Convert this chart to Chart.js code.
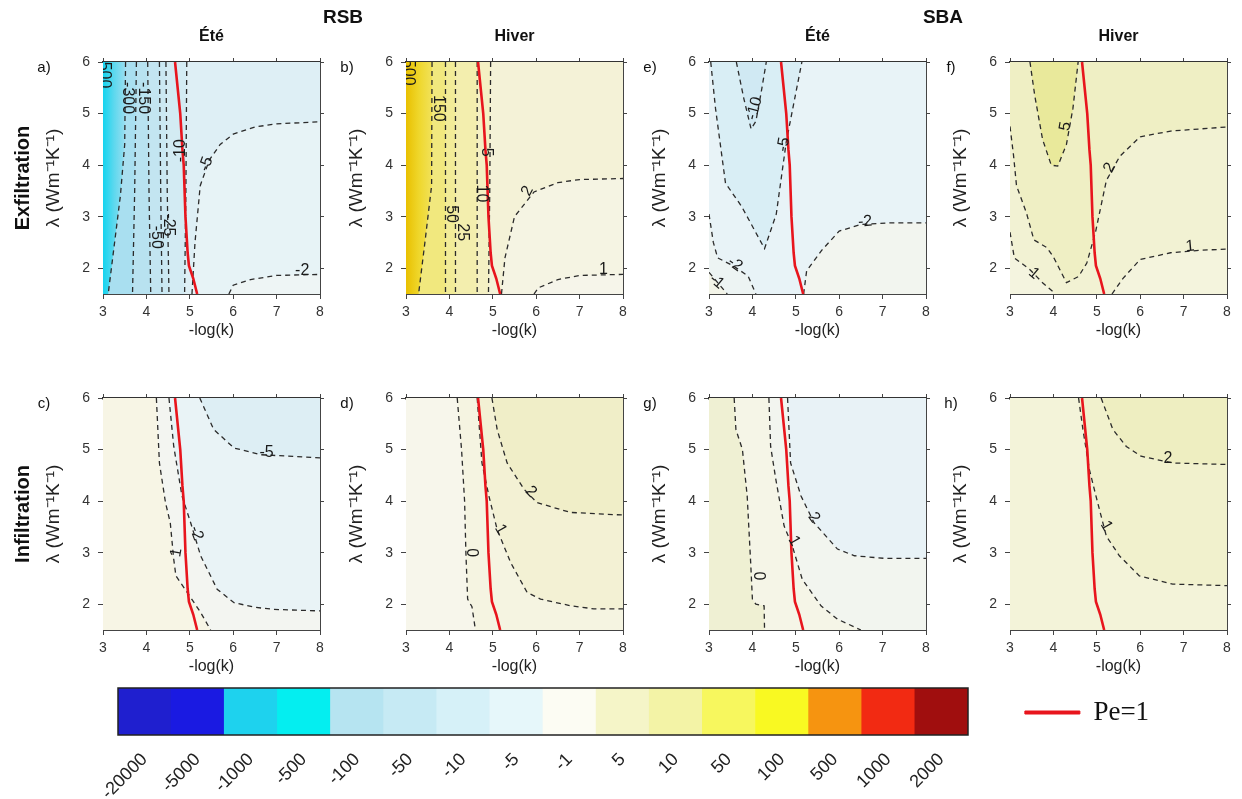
<!DOCTYPE html>
<html>
<head>
<meta charset="utf-8">
<script src="https://cdn.jsdelivr.net/npm/chart.js@4.4.1/dist/chart.umd.min.js"></script>
<style>
  body { margin: 0; background: #fff; width: 1242px; height: 799px; overflow: hidden; position: relative; }
  canvas { position: absolute; }
</style>
</head>
<body>
<canvas id="pa" width="329" height="340" style="left:3px;top:0px"></canvas>
<canvas id="pb" width="329" height="340" style="left:306px;top:0px"></canvas>
<canvas id="pe" width="329" height="340" style="left:609px;top:0px"></canvas>
<canvas id="pf" width="329" height="340" style="left:910px;top:0px"></canvas>
<canvas id="pc" width="329" height="340" style="left:3px;top:336px"></canvas>
<canvas id="pd" width="329" height="340" style="left:306px;top:336px"></canvas>
<canvas id="pg" width="329" height="340" style="left:609px;top:336px"></canvas>
<canvas id="ph" width="329" height="340" style="left:910px;top:336px"></canvas>
<canvas id="cbar" width="920" height="119" style="left:60px;top:680px"></canvas>
<canvas id="leg" width="200" height="90" style="left:987px;top:691px"></canvas>
<script>
const FONT = "'Liberation Sans', Arial, sans-serif";
const RED = "#e8151d";

const xTicks = [3, 4, 5, 6, 7, 8];
const yTicks = [2, 3, 4, 5, 6];

// Pe = 1 (same in every panel)
const peLine = [[4.66, 6], [4.72, 5.5], [4.78, 5.0], [4.83, 4.3], [4.86, 4.0], [4.9, 3.0], [4.95, 2.3], [4.98, 2.05], [5.08, 1.8], [5.17, 1.5]];

// a) RSB, été, exfiltration
const aM300 = [[3.52, 6], [3.5, 4.4], [3.4, 3.4], [3.12, 1.5]];
const aM150 = [[3.77, 6], [3.73, 3.5], [3.68, 1.5]];
const aM100 = [[4.03, 6], [4.06, 3.5], [4.1, 1.5]];
const aM50 = [[4.3, 6], [4.33, 3.5], [4.36, 1.5]];
const aM25 = [[4.45, 6], [4.48, 3.5], [4.52, 1.5]];
const aM10 = [[4.93, 6], [4.91, 3.5], [4.88, 1.5]];
const aM5 = [[5.05, 1.5], [5.12, 2.5], [5.24, 3.6], [5.45, 4.1], [5.7, 4.4], [6.0, 4.6], [6.5, 4.74], [7.0, 4.8], [8, 4.84]];
const aM2 = [[5.9, 1.5], [6.0, 1.67], [6.4, 1.78], [7.0, 1.86], [8, 1.88]];
const aLabels = [["-500", 3.04, 5.8, 90], ["-300", 3.57, 5.3, 90], ["-150", 3.93, 5.3, 90], ["-10", 4.79, 4.28, -90],
  ["-50", 4.22, 2.6, 90], ["-25", 4.5, 2.84, 90], ["-5", 5.38, 4.02, -70], ["-2", 7.59, 1.95, 0]];

// b) RSB, hiver, exfiltration
const b150 = [[3.6, 6], [3.59, 3.6], [3.45, 2.6], [3.29, 1.5]];
const b50 = [[3.91, 6], [3.91, 3.5], [3.91, 1.5]];
const b25 = [[4.14, 6], [4.14, 3.5], [4.14, 1.5]];
const b10 = [[4.64, 6], [4.64, 3.5], [4.64, 1.5]];
const b5 = [[4.95, 6], [4.93, 3.5], [4.9, 1.5]];
const b2 = [[5.2, 1.5], [5.28, 2.2], [5.5, 3.0], [5.95, 3.48], [6.5, 3.66], [7.0, 3.72], [8, 3.74]];
const b1 = [[5.95, 1.5], [6.05, 1.62], [6.5, 1.78], [7.0, 1.86], [8, 1.88]];
const bLabels = [["500", 3.05, 5.8, 90], ["150", 3.75, 5.1, 90], ["50", 4.04, 3.05, 90], ["25", 4.3, 2.7, 90],
  ["10", 4.74, 3.45, 90], ["5", 4.85, 4.25, 90], ["2", 5.8, 3.5, -62], ["1", 7.55, 1.97, 0]];

// e) SBA, été, exfiltration
const eM10 = [[3.63, 6], [3.8, 5.3], [3.97, 4.7], [4.08, 4.85], [4.2, 5.4], [4.32, 6]];
const eM5 = [[3.04, 6], [3.15, 5.1], [3.38, 3.65], [3.75, 3.2], [4.28, 2.38], [4.55, 3.05], [4.78, 4.45], [5.14, 6]];
const eM2a = [[3.0, 3.05], [3.1, 2.5], [3.2, 2.2], [3.55, 2.05], [3.9, 1.85], [4.08, 1.5]];
const eM2b = [[5.18, 1.5], [5.25, 1.95], [5.6, 2.35], [6.0, 2.72], [6.5, 2.85], [7.2, 2.88], [8, 2.88]];
const eM1 = [[3.0, 1.92], [3.2, 1.72], [3.42, 1.5]];
const eLabels = [["-10", 4.05, 5.1, -75], ["-5", 4.72, 4.4, -80], ["-2", 3.6, 2.08, 35], ["-2", 6.6, 2.9, -5], ["-1", 3.18, 1.74, 40]];

// f) SBA, hiver, exfiltration
const f5 = [[3.46, 6], [3.57, 5.35], [3.75, 4.5], [3.95, 4.0], [4.1, 3.98], [4.3, 4.4], [4.45, 5.1], [4.57, 6]];
const f2 = [[3.0, 4.75], [3.08, 4.2], [3.15, 3.6], [3.38, 3.07], [3.55, 2.55], [3.85, 2.4], [4.0, 2.22], [4.3, 1.72],
  [4.58, 1.84], [4.77, 2.1], [4.97, 2.7], [5.22, 3.7], [5.53, 4.17], [6.0, 4.55], [6.7, 4.66], [8, 4.74]];
const f1a = [[3.0, 2.7], [3.1, 2.2], [3.45, 1.98], [3.75, 1.72], [4.05, 1.5]];
const f1b = [[5.35, 1.5], [5.6, 1.8], [6.0, 2.17], [6.7, 2.3], [7.4, 2.35], [8, 2.37]];
const fLabels = [["5", 4.28, 4.75, -80], ["2", 5.3, 3.95, -62], ["1", 3.55, 1.9, 40], ["1", 7.15, 2.42, -5]];

// c) RSB, été, infiltration
const c1 = [[4.23, 6], [4.3, 4.74], [4.44, 3.97], [4.55, 3.58], [4.63, 2.87], [4.68, 2.55], [4.94, 2.23], [5.25, 1.84], [5.48, 1.5]];
const cM2 = [[4.52, 6], [4.63, 5.06], [4.82, 4.1], [5.02, 3.58], [5.25, 2.94], [5.63, 2.29], [6.02, 2.03], [6.5, 1.94], [6.94, 1.9], [8, 1.87]];
const cM5 = [[5.23, 6], [5.55, 5.39], [6.02, 5.03], [6.63, 4.9], [8, 4.84]];
const cLabels = [["1", 4.69, 3.0, -80], ["-2", 5.15, 3.38, 70], ["-5", 6.77, 4.95, 0]];

// d) RSB, hiver, infiltration
const d0 = [[4.18, 6], [4.28, 5.0], [4.35, 4.0], [4.38, 3.0], [4.42, 2.1], [4.52, 1.95], [4.6, 1.5]];
const d1 = [[4.64, 6], [4.75, 4.74], [4.91, 4.1], [5.1, 3.45], [5.41, 2.81], [5.79, 2.23], [6.1, 2.1], [6.79, 1.97], [7.33, 1.91], [8, 1.91]];
const d2 = [[4.98, 6], [5.1, 5.39], [5.33, 4.74], [5.72, 4.23], [6.02, 3.97], [6.79, 3.78], [8, 3.73]];
const dLabels = [["0", 4.5, 3.0, 90], ["1", 5.18, 3.45, 60], ["2", 5.88, 4.18, 45]];

// g) SBA, été, infiltration
const g0 = [[3.58, 6], [3.62, 5.39], [3.77, 5.0], [3.88, 4.1], [3.96, 2.81], [4.0, 2.1], [4.08, 2.0], [4.27, 1.97], [4.28, 1.5]];
const g1 = [[4.38, 6], [4.42, 5.06], [4.54, 4.42], [4.73, 3.52], [4.92, 3.13], [5.15, 2.48], [5.58, 1.97], [5.96, 1.71], [6.5, 1.5]];
const g2 = [[4.81, 6], [4.88, 4.74], [5.12, 4.1], [5.42, 3.58], [5.96, 3.07], [6.35, 2.94], [7.04, 2.89], [8, 2.89]];
const gLabels = [["0", 4.13, 2.55, 90], ["1", 4.96, 3.23, 60], ["2", 5.42, 3.68, 55]];

// h) SBA, hiver, infiltration
const h1 = [[4.58, 6], [4.68, 5.39], [4.83, 4.61], [4.98, 4.1], [5.22, 3.32], [5.52, 2.94], [5.98, 2.55], [6.75, 2.39], [8, 2.36]];
const h2 = [[5.1, 6], [5.37, 5.39], [5.68, 5.06], [6.02, 4.87], [6.75, 4.74], [8, 4.71]];
const hLabels = [["1", 5.22, 3.52, 60], ["2", 6.64, 4.82, 0]];

// colour bar
const cbLabels = ["-20000", "-5000", "-1000", "-500", "-100", "-50", "-10", "-5", "-1", "5", "10", "50", "100", "500", "1000", "2000"];
const cbSegments = [1, 1, 1, 1, 1, 1, 1, 1, 1, 1, 1, 1, 1, 1, 1, 1];
const cbColors = ["#1f1fcf", "#1a1ae2", "#1ed2ee", "#04eef0", "#b6e4f1", "#c6eaf4", "#d6f1f8", "#e6f7fa",
  "#fcfcf3", "#f5f5c8", "#f3f3a6", "#f7f75e", "#f9f922", "#f69410", "#f22a12", "#a00e0e"];

Chart.defaults.font.family = FONT;

const BOX = [[3, 1.5], [3, 6], [8, 6], [8, 1.5]];
const LEFT = [[3, 1.5], [3, 6]];

function toPts(arr) {
  return arr.map(p => ({ x: p[0], y: p[1] }));
}

function hGrad(stops) {
  return (c) => {
    const chart = c.chart;
    const sx = chart.scales.x;
    if (!chart.chartArea || !sx) return stops[0][1];
    const v0 = stops[0][0], v1 = stops[stops.length - 1][0];
    const g = chart.ctx.createLinearGradient(sx.getPixelForValue(v0), 0, sx.getPixelForValue(v1), 0);
    stops.forEach(s => g.addColorStop((s[0] - v0) / (v1 - v0), s[1]));
    return g;
  };
}

const overlays = {};
const overlayPlugin = {
  id: "overlay",
  afterDraw(chart) {
    const o = overlays[chart.canvas.id];
    if (!o) return;
    const { ctx, chartArea: a, scales } = chart;
    ctx.save();
    ctx.textAlign = "center";
    ctx.textBaseline = "middle";

    // contour labels, placed in data units
    ctx.save();
    ctx.beginPath();
    ctx.rect(a.left, a.top, a.right - a.left, a.bottom - a.top);
    ctx.clip();
    ctx.font = "16px " + FONT;
    ctx.fillStyle = "#1a1a1a";
    o.labels.forEach(l => {
      ctx.save();
      ctx.translate(scales.x.getPixelForValue(l[1]), scales.y.getPixelForValue(l[2]));
      ctx.rotate(l[3] * Math.PI / 180);
      ctx.fillText(l[0], 0, 0);
      ctx.restore();
    });
    ctx.restore();

    ctx.fillStyle = "#111";
    if (o.letter) {
      ctx.font = "15px " + FONT;
      ctx.fillText(o.letter, a.left - 59, a.top + 6);
    }
    if (o.header) {
      ctx.font = "bold 16px " + FONT;
      ctx.fillText(o.header, (a.left + a.right) / 2, a.top - 25);
    }
    if (o.group) {
      ctx.font = "bold 19px " + FONT;
      ctx.fillText(o.group[0], a.left + o.group[1], a.top - 44);
    }
    if (o.row) {
      ctx.save();
      ctx.font = "bold 20px " + FONT;
      ctx.translate(a.left - 80, (a.top + a.bottom) / 2);
      ctx.rotate(-Math.PI / 2);
      ctx.fillText(o.row, 0, 0);
      ctx.restore();
    }
    ctx.restore();
  }
};

const framePlugin = {
  id: "frame",
  afterDraw(chart) {
    const { ctx, chartArea: a } = chart;
    ctx.save();
    ctx.strokeStyle = "#222";
    ctx.lineWidth = 1.5;
    ctx.strokeRect(a.left, a.top, a.right - a.left, a.bottom - a.top);
    ctx.restore();
  }
};

function makePanel(id, p) {
  overlays[id] = { labels: p.labels, letter: p.letter, header: p.header, group: p.group, row: p.row };
  const datasets = [];
  p.fills.forEach((f, i) => datasets.push({
    data: toPts(f[0]), backgroundColor: f[1], borderWidth: 0, fill: "shape",
    pointRadius: 0, tension: 0, order: 100 - i
  }));
  p.lines.forEach(l => datasets.push({
    data: toPts(l), borderColor: "#2b2b2b", borderWidth: 1.3, borderDash: [5, 4],
    fill: false, pointRadius: 0, tension: 0, order: 5
  }));
  datasets.push({
    data: toPts(peLine), borderColor: RED, borderWidth: 2.6, fill: false,
    pointRadius: 0, tension: 0, order: 0
  });

  const edge = "#444";
  new Chart(document.getElementById(id), {
    type: "line",
    data: { datasets },
    options: {
      responsive: false,
      animation: false,
      events: [],
      layout: { padding: 0 },
      plugins: { legend: { display: false }, tooltip: { enabled: false } },
      scales: {
        x: {
          type: "linear", position: "bottom", min: 3, max: 8,
          afterBuildTicks: s => { s.ticks = xTicks.map(v => ({ value: v })); },
          afterFit: s => { s.height = 46; },
          ticks: { font: { size: 14 }, color: "#333", padding: 5 },
          grid: { drawOnChartArea: false, drawTicks: true, tickLength: 5, color: edge },
          border: { display: true, color: edge, width: 1 },
          title: { display: true, text: "-log(k)", font: { size: 16 }, color: "#222", padding: { top: 0, bottom: 0 } }
        },
        x2: {
          type: "linear", position: "top", min: 3, max: 8,
          afterBuildTicks: s => { s.ticks = xTicks.map(v => ({ value: v })); },
          afterFit: s => { s.height = 62; },
          ticks: { display: false },
          grid: { drawOnChartArea: false, drawTicks: true, tickLength: 4, color: edge },
          border: { display: true, color: "#333", width: p.topWidth }
        },
        y: {
          type: "linear", position: "left", min: 1.5, max: 6,
          afterBuildTicks: s => { s.ticks = yTicks.map(v => ({ value: v })); },
          afterFit: s => { s.width = 100; },
          ticks: { font: { size: 14 }, color: "#333", padding: 8 },
          grid: { drawOnChartArea: false, drawTicks: true, tickLength: 5, color: edge },
          border: { display: true, color: edge, width: 1 },
          title: { display: true, text: "λ (Wm⁻¹K⁻¹)", font: { size: 19 }, color: "#222", padding: { top: 39, bottom: 0 } }
        },
        y2: {
          type: "linear", position: "right", min: 1.5, max: 6,
          afterBuildTicks: s => { s.ticks = yTicks.map(v => ({ value: v })); },
          afterFit: s => { s.width = 12; },
          ticks: { display: false },
          grid: { drawOnChartArea: false, drawTicks: true, tickLength: 4, color: edge },
          border: { display: true, color: edge, width: 1 }
        }
      }
    },
    plugins: [overlayPlugin]
  });
}

makePanel("pa", {
  letter: "a)", header: "Été", row: "Exfiltration", topWidth: 1.5,
  fills: [
    [BOX, "#e7f3f6"],
    [[...aM2, [8, 1.5]], "#eef5f5"],
    [[[3, 1.5], ...aM5, [8, 6], [3, 6]], "#deeff5"],
    [[...LEFT, ...aM10], "#d3ebf3"],
    [[...LEFT, ...aM25], "#cbe8f2"],
    [[...LEFT, ...aM50], "#c3e5f1"],
    [[...LEFT, ...aM100], "#b8e2f0"],
    [[...LEFT, ...aM150], "#a9dff0"],
    [[...LEFT, ...aM300], hGrad([[3, "#14d4ef"], [3.25, "#5cd8ee"], [3.55, "#a2def0"]])]
  ],
  lines: [aM300, aM150, aM100, aM50, aM25, aM10, aM5, aM2],
  labels: aLabels
});

makePanel("pb", {
  letter: "b)", header: "Hiver", group: ["RSB", -63], topWidth: 1.5,
  fills: [
    [BOX, "#f5f4e3"],
    [[...b1, [8, 1.5]], "#f6f5ea"],
    [[[3, 1.5], ...b2, [8, 6], [3, 6]], "#f4f2d7"],
    [[...LEFT, ...b5], "#f4f0c3"],
    [[...LEFT, ...b10], "#f3eeae"],
    [[...LEFT, ...b25], "#f2ec98"],
    [[...LEFT, ...b50], "#f1e87e"],
    [[...LEFT, ...b150], hGrad([[3, "#e9c000"], [3.3, "#efd72c"], [3.6, "#f1e25a"]])]
  ],
  lines: [b150, b50, b25, b10, b5, b2, b1],
  labels: bLabels
});

makePanel("pe", {
  letter: "e)", header: "Été", topWidth: 1.5,
  fills: [
    [BOX, "#e8f3f7"],
    [eM5, "#d9eef5"],
    [eM10, "#d0e9f3"],
    [[...eM2b, [8, 1.5]], "#f2f5ef"],
    [[...eM2a, [3, 1.5]], "#edf4f3"],
    [[...eM1, [3, 1.5]], "#f3f4e8"]
  ],
  lines: [eM10, eM5, eM2a, eM2b, eM1],
  labels: eLabels
});

makePanel("pf", {
  letter: "f)", header: "Hiver", group: ["SBA", -67], topWidth: 1.5,
  fills: [
    [BOX, "#f2f2d3"],
    [[[3, 6], ...f2, [8, 6]], "#efefc4"],
    [f5, "#e9e99b"],
    [[...f1a, [3, 1.5]], "#f4f4df"],
    [[...f1b, [8, 1.5]], "#f4f4dd"]
  ],
  lines: [f5, f2, f1a, f1b],
  labels: fLabels
});

makePanel("pc", {
  letter: "c)", row: "Infiltration", topWidth: 2.5,
  fills: [
    [BOX, "#e9f3f6"],
    [[...cM5, [8, 6]], "#ddeef4"],
    [[...LEFT, ...cM2, [8, 1.5]], "#f3f5f1"],
    [[...LEFT, ...c1], "#f7f5e5"]
  ],
  lines: [c1, cM2, cM5],
  labels: cLabels
});

makePanel("pd", {
  letter: "d)", topWidth: 2.5,
  fills: [
    [BOX, "#f0eec8"],
    [[...LEFT, ...d2, [8, 1.5]], "#f3f1d4"],
    [[...LEFT, ...d1, [8, 1.5]], "#f5f4e1"],
    [[...LEFT, ...d0], "#f7f6eb"]
  ],
  lines: [d0, d1, d2],
  labels: dLabels
});

makePanel("pg", {
  letter: "g)", topWidth: 2.5,
  fills: [
    [BOX, "#e8f2f6"],
    [[...LEFT, ...g2, [8, 1.5]], "#f2f5ef"],
    [[...LEFT, ...g1], "#f5f5e7"],
    [[...LEFT, ...g0], "#eff0d3"]
  ],
  lines: [g0, g1, g2],
  labels: gLabels
});

makePanel("ph", {
  letter: "h)", topWidth: 2.5,
  fills: [
    [BOX, "#eeeec1"],
    [[...LEFT, ...h2, [8, 1.5]], "#f1f1cd"],
    [[...LEFT, ...h1, [8, 1.5]], "#f3f3d9"]
  ],
  lines: [h1, h2],
  labels: hLabels
});

// colour bar
new Chart(document.getElementById("cbar"), {
  type: "bar",
  data: {
    labels: cbLabels,
    datasets: [{ data: cbSegments, backgroundColor: cbColors, borderWidth: 0, barPercentage: 1, categoryPercentage: 1 }]
  },
  options: {
    responsive: false,
    animation: false,
    events: [],
    layout: { padding: { left: 58, right: 12, top: 8, bottom: 0 } },
    plugins: { legend: { display: false }, tooltip: { enabled: false } },
    scales: {
      x: {
        grid: { display: false },
        border: { display: false },
        ticks: { font: { size: 18 }, color: "#222", minRotation: 45, maxRotation: 45, autoSkip: false, padding: 6 },
        afterFit: s => { s.height = 64; }
      },
      y: { display: false, min: 0, max: 1 }
    }
  },
  plugins: [framePlugin]
});

// legend for the Pe = 1 line
new Chart(document.getElementById("leg"), {
  type: "line",
  data: { datasets: [{ label: "Pe=1", data: [], borderColor: RED, backgroundColor: RED, borderWidth: 1 }] },
  options: {
    responsive: false,
    animation: false,
    events: [],
    scales: { x: { display: false }, y: { display: false } },
    plugins: {
      tooltip: { enabled: false },
      legend: {
        display: true,
        position: "top",
        maxHeight: 80,
        labels: {
          boxWidth: 55, boxHeight: 3, color: "#111", padding: 8,
          font: { family: "'Liberation Serif', 'Times New Roman', serif", size: 27 }
        }
      }
    }
  }
});
</script>
</body>
</html>
